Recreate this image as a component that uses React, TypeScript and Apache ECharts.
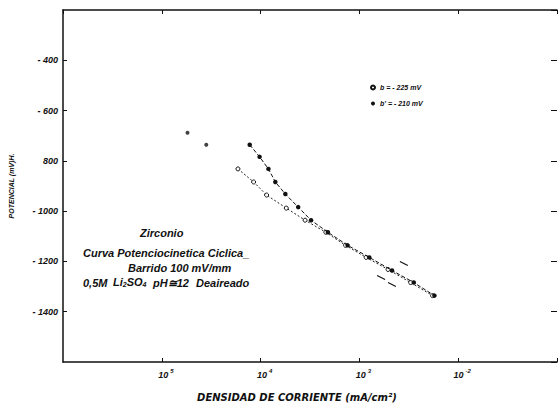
import React, { useEffect, useRef } from "react";
import * as echarts from "echarts";

// Tick values
const potTicksMin = -1600;
const potTicksMax = -200;
const potInterval = 200;
const currentMin = 1e-6;
const currentMax = 1e-1;
const xTickExponents: Record<string, string> = { "-5": "5", "-4": "4", "-3": "3", "-2": "-2" };

// Open circles: b = -225 mV
const openX = [5.9e-5, 8.5e-5, 1.15e-4, 1.82e-4, 2.82e-4, 4.57e-4, 7.24e-4, 1.17e-3, 1.95e-3, 3.3e-3, 5.5e-3];
const openY = [-832, -884, -936, -988, -1036, -1084, -1136, -1184, -1232, -1284, -1336];

// Filled circles: b' = -210 mV
const filledX = [7.76e-5, 9.77e-5, 1.2e-4, 1.41e-4, 1.78e-4, 2.4e-4, 3.24e-4, 4.8e-4, 7.6e-4, 1.26e-3, 2.14e-3, 3.55e-3, 5.75e-3];
const filledY = [-736, -784, -832, -884, -932, -984, -1036, -1084, -1136, -1184, -1236, -1284, -1336];

// Isolated filled points (start of cycle)
const isoX = [1.82e-5, 2.82e-5];
const isoY = [-688, -736];

// Short tangent dashes
const dashX = [2.57e-3, 3.09e-3, null, 1.51e-3, 1.82e-3, null, 1.95e-3, 2.34e-3];
const dashY = [-1200, -1216, null, -1256, -1272, null, -1284, -1300];

const legendNames = ["b = - 225 mV", "b' = - 210 mV"];

const FONT = "Liberation Sans";
const WIDE = "DejaVu Sans";

export default function App() {
  const ref = useRef<HTMLDivElement>(null);
  useEffect(() => {
    if (!ref.current) return;
    const chart = echarts.init(ref.current, undefined, { renderer: "svg" });
    const zip = (xs: (number | null)[], ys: (number | null)[]) =>
      xs.map((x, i) => (x === null || ys[i] === null ? "-" : [x, ys[i]]));
    const txt = { fontFamily: FONT, fontStyle: "italic", fontWeight: "bold", color: "#111" };
    const note = { fontFamily: FONT, fontStyle: "italic", fontWeight: "bold", fill: "#111" };
    const wide = { fontFamily: WIDE, fontStyle: "oblique", fontWeight: "bold", fill: "#111" };
    chart.setOption({
      animation: false,
      backgroundColor: "#fff",
      grid: { left: 62, top: 10, width: 500, height: 352 },
      legend: {
        data: [
          { name: legendNames[0], icon: "circle" },
          { name: legendNames[1], icon: "circle" },
        ],
        orient: "vertical",
        left: 365,
        top: 79,
        itemWidth: 4,
        itemHeight: 4,
        itemGap: 9,
        textStyle: { ...txt, fontSize: 7, color: "#111", padding: [0, 0, 0, 0] },
      },
      xAxis: [
        {
          type: "log",
          logBase: 10,
          min: currentMin,
          max: currentMax,
          position: "bottom",
          axisLine: { lineStyle: { color: "#111", width: 1.5 } },
          axisTick: { inside: true, length: 4, lineStyle: { color: "#111" } },
          splitLine: { show: false },
          axisLabel: {
            showMinLabel: false,
            showMaxLabel: false,
            margin: 6,
            formatter: (v: number) => {
              const e = String(Math.round(Math.log10(v)));
              const sup = xTickExponents[e];
              if (sup === undefined) return "";
              return `{p|}{b|10}{e|${sup}}`;
            },
            rich: {
              p: { width: 8 },
              b: { ...txt, fontSize: 9 },
              e: { ...txt, fontSize: 6, padding: [0, 0, 7, 2] },
            },
          },
        },
        {
          type: "log",
          logBase: 10,
          min: currentMin,
          max: currentMax,
          position: "top",
          axisLine: { lineStyle: { color: "#111", width: 1.5 } },
          axisTick: { inside: true, length: 4, lineStyle: { color: "#111" } },
          axisLabel: { show: false },
          splitLine: { show: false },
        },
      ],
      yAxis: [
        {
          type: "value",
          min: potTicksMin,
          max: potTicksMax,
          interval: potInterval,
          name: "POTENCIAL (mV)H.",
          nameLocation: "middle",
          nameRotate: 90,
          nameGap: 48,
          nameTextStyle: { ...txt, fontSize: 7 },
          axisLine: { show: true, lineStyle: { color: "#111", width: 1.5 } },
          axisTick: { show: true, inside: true, length: 4, lineStyle: { color: "#111" } },
          splitLine: { show: false },
          axisLabel: {
            showMinLabel: false,
            showMaxLabel: false,
            margin: 5,
            ...txt,
            fontSize: 9,
            formatter: (v: number) => (v === -800 ? "800" : "- " + Math.abs(v)),
          },
        },
        {
          type: "value",
          min: potTicksMin,
          max: potTicksMax,
          interval: potInterval,
          position: "right",
          axisLine: { show: false },
          axisTick: { show: true, inside: true, length: 6, lineStyle: { color: "#111" } },
          axisLabel: { show: false },
          splitLine: { show: false },
        },
      ],
      series: [
        {
          name: legendNames[0],
          type: "line",
          data: zip(openX, openY),
          symbol: "circle",
          symbolSize: 4,
          itemStyle: { color: "#fff", borderColor: "#111", borderWidth: 1 },
          lineStyle: { color: "#222", width: 1, type: [2, 2] },
          z: 3,
        },
        {
          name: legendNames[1],
          type: "line",
          data: zip(filledX, filledY),
          symbol: "circle",
          symbolSize: 4.5,
          itemStyle: { color: "#111", borderColor: "#111", borderWidth: 0 },
          lineStyle: { color: "#111", width: 1, type: [4, 2] },
          z: 4,
        },
        {
          name: "iso",
          type: "scatter",
          data: zip(isoX, isoY),
          symbol: "circle",
          symbolSize: 4,
          itemStyle: { color: "#111" },
        },
        {
          name: "dash",
          type: "line",
          data: zip(dashX, dashY),
          symbol: "none",
          connectNulls: false,
          lineStyle: { color: "#111", width: 1.2 },
        },
      ],
      graphic: [
        { type: "text", left: 140, top: 227, style: { text: "Zirconio", ...note, fontSize: 11 } },
        { type: "text", left: 83, top: 247, style: { text: "Curva Potenciocinetica Ciclica_", ...note, fontSize: 11 } },
        { type: "text", left: 128, top: 262, style: { text: "Barrido 100 mV/mm", ...note, fontSize: 11 } },
        { type: "text", left: 83, top: 277, style: { text: "0,5M", ...note, fontSize: 11 } },
        {
          type: "text",
          left: 113,
          top: 276,
          style: {
            text: "{a|Li}{s|2}{a|SO}{s|4}",
            rich: {
              a: { ...note, fontSize: 11 },
              s: { ...note, fontSize: 7, padding: [5, 0, 0, 0] },
            },
          },
        },
        { type: "text", left: 153, top: 277, style: { text: "pH≅12", ...note, fontSize: 11 } },
        { type: "text", left: 196, top: 277, style: { text: "Deaireado", ...note, fontSize: 11 } },
        {
          type: "text",
          x: 297,
          y: 397,
          style: {
            text: "DENSIDAD DE CORRIENTE (mA/cm²)",
            ...wide,
            fontSize: 10,
            align: "center",
            verticalAlign: "middle",
          },
        },
      ],
    });
    return () => chart.dispose();
  }, []);
  return (
    <div
      ref={ref}
      style={{ position: "absolute", left: 0, top: 0, width: 560, height: 410 }}
    />
  );
}
